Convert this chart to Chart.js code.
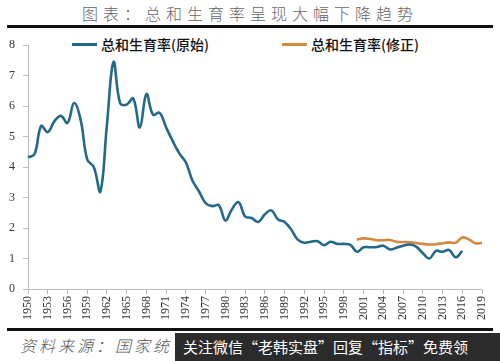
<!DOCTYPE html>
<html lang="zh">
<head>
<meta charset="UTF-8" />
<title>总和生育率</title>
<style>
  body { margin: 0; width: 500px; height: 361px; background: #fff; position: relative; overflow: hidden; font-family: "Noto Sans CJK SC", sans-serif; }
  .title { position: absolute; top: 1px; left: 0; width: 500px; text-align: center; font-size: 16px; font-weight: 300; letter-spacing: 5px; color: #666; }
  .rule { position: absolute; left: 7px; width: 486px; height: 3px; background: #111; }
  .legend { position: absolute; top: 34px; font-size: 14px; font-weight: 500; color: #111; display: flex; align-items: center; }
  .legend i { display: inline-block; width: 25px; height: 3px; margin-right: 4px; }
  #box { position: absolute; left: 0; top: 30px; width: 500px; height: 298px; }
  .source { position: absolute; left: 20px; top: 333px; font-size: 16px; font-weight: 300; font-style: italic; color: #555; letter-spacing: 3px; }
  .mark { position: absolute; left: 175px; top: 333px; width: 325px; height: 28px; background: #2b2b2b; color: #fff; font-size: 15px; line-height: 28px; padding-left: 8px; box-sizing: border-box; white-space: nowrap; }
</style>
<script src="https://cdn.jsdelivr.net/npm/chart.js"></script>
</head>
<body>
  <div class="title">图表：总和生育率呈现大幅下降趋势</div>
  <div class="rule" style="top:25px"></div>
  <div class="legend" style="left:72px"><i style="background:#22698b"></i>总和生育率(原始)</div>
  <div class="legend" style="left:282px"><i style="background:#d3893f"></i>总和生育率(修正)</div>
  <div id="box"><canvas id="chart"></canvas></div>
  <div class="rule" style="top:328px"></div>
  <div class="source">资料来源：国家统计局</div>
  <div class="mark">关注微信“老韩实盘”回复“指标”免费领</div>
</body>
</html>
<script>
  // years 1950 - 2019
  const years = []
  for (let y = 1950; y <= 2019; y++) years.push(String(y))

  const tfrOriginal = [
    4.32, 4.43, 5.35, 5.15, 5.5, 5.68, 5.45, 6.1, 5.55, 4.25,
    4.0, 3.2, 5.4, 7.45, 6.1, 6.05, 6.25, 5.3, 6.4, 5.72,
    5.78, 5.3, 4.85, 4.45, 4.15, 3.55, 3.2, 2.82, 2.72, 2.75,
    2.25, 2.62, 2.85, 2.38, 2.33, 2.2, 2.45, 2.58, 2.28, 2.2,
    1.95, 1.62, 1.52, 1.55, 1.57, 1.44, 1.55, 1.48, 1.48, 1.45,
    1.22, 1.37, 1.37, 1.38, 1.42, 1.3, 1.35, 1.42, 1.46, 1.39,
    1.18, 1.0, 1.25, 1.22, 1.28, 1.04, 1.25, null, null, null
  ]

  const tfrRevised = [
    null, null, null, null, null, null, null, null, null, null,
    null, null, null, null, null, null, null, null, null, null,
    null, null, null, null, null, null, null, null, null, null,
    null, null, null, null, null, null, null, null, null, null,
    null, null, null, null, null, null, null, null, null, null,
    1.62, 1.66, 1.64, 1.6, 1.6, 1.61, 1.55, 1.54, 1.53, 1.51,
    1.48, 1.46, 1.47, 1.5, 1.53, 1.52, 1.69, 1.63, 1.5, 1.52
  ]

  const yTicks = [0, 1, 2, 3, 4, 5, 6, 7, 8]

  const axisColor = '#bdbdbd'
  const tickFont = { family: 'Liberation Serif', size: 12 }

  new Chart(document.querySelector('#chart'), {
    type: 'line',
    data: {
      labels: years,
      datasets: [{
        label: '总和生育率(原始)',
        data: tfrOriginal,
        borderColor: '#22698b',
        borderWidth: 2.6,
        pointRadius: 0,
        tension: 0.4
      }, {
        label: '总和生育率(修正)',
        data: tfrRevised,
        borderColor: '#d3893f',
        borderWidth: 2.6,
        pointRadius: 0,
        tension: 0.4
      }]
    },
    options: {
      responsive: true,
      maintainAspectRatio: false,
      animation: false,
      layout: { padding: { top: 15, right: 18, left: 0, bottom: 0 } },
      plugins: { legend: { display: false }, tooltip: { enabled: false } },
      scales: {
        x: {
          offset: false,
          grid: { display: true, drawOnChartArea: false, color: axisColor, tickLength: 5 },
          border: { color: axisColor },
          ticks: {
            autoSkip: false,
            maxRotation: 90,
            minRotation: 90,
            padding: 2,
            color: '#333',
            font: tickFont,
            callback: function (v, i) { return i % 3 === 0 ? years[i] : null }
          },
          afterFit: s => { s.height = 39 }
        },
        y: {
          min: 0,
          max: 8,
          afterBuildTicks: s => { s.ticks = yTicks.map(v => ({ value: v })) },
          grid: { display: true, drawOnChartArea: false, color: axisColor, tickLength: 5 },
          border: { color: axisColor },
          ticks: { color: '#333', font: tickFont, padding: 8 },
          afterFit: s => { s.width = 28 }
        }
      }
    }
  })
</script>
